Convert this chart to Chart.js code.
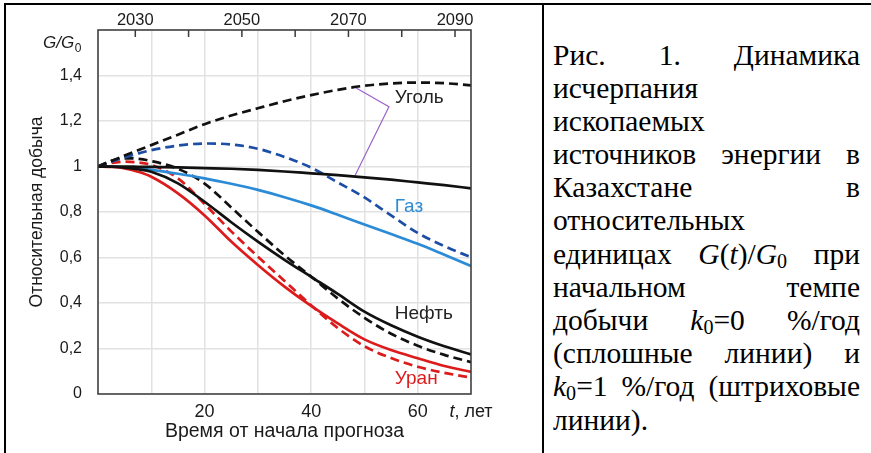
<!DOCTYPE html>
<html><head><meta charset="utf-8">
<script src="https://cdn.jsdelivr.net/npm/chart.js@4.4.1/dist/chart.umd.min.js"></script>
<style>
html,body{margin:0;padding:0;background:#fff;width:871px;height:453px;overflow:hidden;position:relative}
#c{position:absolute;left:0;top:0}
.b{position:absolute;background:#000}
#cap{position:absolute;left:553px;top:38.5px;width:307px;font-family:"Liberation Serif","Times New Roman",serif;font-size:29.5px;color:#000}
#cap .l{display:flex;justify-content:space-between;align-items:baseline;height:33.2px;line-height:33.2px;white-space:nowrap}
#cap i{font-style:italic}
#cap sub{font-size:0.68em;vertical-align:-0.2em;line-height:0}
</style></head><body>
<canvas id="c" width="542" height="453"></canvas>
<div class="b" style="left:4px;top:3px;width:867px;height:2px"></div>
<div class="b" style="left:4px;top:3px;width:2px;height:450px"></div>
<div class="b" style="left:542px;top:3px;width:2px;height:450px"></div>
<div id="cap">
<div class="l"><span>Рис.</span><span>1.</span><span>Динамика</span></div>
<div class="l"><span>исчерпания</span></div>
<div class="l"><span>ископаемых</span></div>
<div class="l"><span>источников</span><span>энергии</span><span>в</span></div>
<div class="l"><span>Казахстане</span><span>в</span></div>
<div class="l"><span>относительных</span></div>
<div class="l"><span>единицах</span><span><i>G</i>(<i>t</i>)/<i>G</i><sub>0</sub></span><span>при</span></div>
<div class="l"><span>начальном</span><span>темпе</span></div>
<div class="l"><span>добычи</span><span><i>k</i><sub>0</sub>=0</span><span>%/год</span></div>
<div class="l"><span>(сплошные</span><span>линии)</span><span>и</span></div>
<div class="l"><span><i>k</i><sub>0</sub>=1</span><span>%/год</span><span>(штриховые</span></div>
<div class="l"><span>линии).</span></div>
</div>
<script>
// ---- data ----
const years = [0, 2.5, 5, 7.5, 10, 15, 20, 25, 30, 35, 40, 45, 50, 55, 60, 65, 70];
const coalK0 = [1, 1.0, 1.0, 0.999, 0.998, 0.996, 0.993, 0.99, 0.985, 0.978, 0.97, 0.962, 0.952, 0.942, 0.930, 0.918, 0.904];
const coalK1 = [1, 1.024, 1.048, 1.071, 1.094, 1.14, 1.186, 1.224, 1.256, 1.287, 1.314, 1.337, 1.355, 1.365, 1.369, 1.366, 1.357];
const gasK0  = [1, 0.999, 0.996, 0.991, 0.985, 0.968, 0.948, 0.924, 0.897, 0.865, 0.829, 0.788, 0.745, 0.703, 0.66, 0.612, 0.563];
const gasK1  = [1, 1.021, 1.04, 1.057, 1.072, 1.092, 1.101, 1.097, 1.078, 1.042, 0.995, 0.93, 0.864, 0.785, 0.708, 0.65, 0.601];
const oilK0  = [1, 0.999, 0.995, 0.988, 0.977, 0.926, 0.845, 0.755, 0.67, 0.59, 0.515, 0.44, 0.362, 0.302, 0.252, 0.21, 0.174];
const oilK1  = [1, 1.025, 1.036, 1.034, 1.024, 0.99, 0.925, 0.82, 0.713, 0.61, 0.516, 0.42, 0.335, 0.265, 0.212, 0.172, 0.14];
const uraK0  = [1, 0.998, 0.992, 0.977, 0.955, 0.882, 0.785, 0.67, 0.567, 0.472, 0.387, 0.31, 0.24, 0.193, 0.157, 0.123, 0.097];
const uraK1  = [1, 1.015, 1.021, 1.018, 1.007, 0.948, 0.835, 0.715, 0.604, 0.497, 0.39, 0.29, 0.21, 0.158, 0.12, 0.093, 0.072];
const leaderT = [47.8, 54.6, 48.2];
const leaderV = [1.354, 1.263, 0.958];
const seriesNames = ['Уголь', 'Газ', 'Нефть', 'Уран'];
const yTicks = [0, 0.2, 0.4, 0.6, 0.8, 1.0, 1.2, 1.4, 1.6];
const yLabels = ['0', '0,2', '0,4', '0,6', '0,8', '1', '1,2', '1,4', ''];
const xGridTicks = [0, 10, 20, 30, 40, 50, 60, 70];
const xLabelTicks = [20, 40, 60];
const topYears = [2030, 2040, 2050, 2060, 2070, 2080, 2090];
const topLabelYears = [2030, 2050, 2070, 2090];
const xTitle = 'Время от начала прогноза';
const yTitle = 'Относительная добыча';

const FAM = '"Liberation Sans", Arial, sans-serif';
Chart.defaults.font.family = FAM;
const pts = arr => years.map((t, i) => ({x: t, y: arr[i]}));
const BLACK = '#111111', LBLUE = '#2b8bd6', DBLUE = '#1d4ea6', RED = '#dc1c1c';

const annot = {
  id: 'annot',
  afterDraw(chart) {
    const {ctx, chartArea: a, scales: {x, y, xTop}} = chart;
    ctx.save();
    ctx.strokeStyle = '#3a3a3a'; ctx.lineWidth = 1.5;
    ctx.strokeRect(a.left, a.top, a.right - a.left, a.bottom - a.top);
    ctx.beginPath();
    xTop.ticks.forEach(t => { const px = xTop.getPixelForValue(t.value); ctx.moveTo(px, a.top); ctx.lineTo(px, a.top + 7); });
    ctx.stroke();
    // series names
    ctx.font = '19px ' + FAM; ctx.textBaseline = 'middle'; ctx.textAlign = 'left';
    const pos = [[55.7, 1.30, '#222'], [55.7, 0.823, LBLUE], [55.7, 0.354, '#222'], [55.7, 0.068, RED]];
    pos.forEach((p, i) => { ctx.fillStyle = p[2]; ctx.fillText(seriesNames[i], x.getPixelForValue(p[0]), y.getPixelForValue(p[1])); });
    // G/G0
    ctx.fillStyle = '#1a1a1a'; ctx.textBaseline = 'alphabetic';
    ctx.font = 'italic 17px ' + FAM;
    ctx.fillText('G/G', 43, 48);
    const w = ctx.measureText('G/G').width;
    ctx.font = '12px ' + FAM;
    ctx.fillText('0', 43 + w + 0.5, 52);
    // t, лет
    ctx.textBaseline = 'middle';
    ctx.font = 'italic 18px ' + FAM;
    const w1 = ctx.measureText('t').width;
    ctx.font = '18px ' + FAM;
    const w2 = ctx.measureText(', лет').width;
    const cx = x.getPixelForValue(70) - (w1 + w2) / 2, cy = 411.7;
    ctx.font = 'italic 18px ' + FAM; ctx.fillText('t', cx, cy);
    ctx.font = '18px ' + FAM; ctx.fillText(', лет', cx + w1, cy);
    ctx.restore();
  }
};

const ds = (label, arr, color, dashed) => ({
  label, data: pts(arr), borderColor: color, borderWidth: 2.7,
  borderDash: dashed ? [9, 5] : [], pointRadius: 0, cubicInterpolationMode: 'monotone', fill: false
});

new Chart(document.getElementById('c'), {
  type: 'line',
  data: {
    datasets: [
      ds('Уголь k0=0', coalK0, BLACK, false),
      ds('Нефть k0=0', oilK0, BLACK, false),
      ds('Уран k0=0', uraK0, RED, false),
      ds('Газ k0=0', gasK0, LBLUE, false),
      ds('Уголь k0=1', coalK1, BLACK, true),
      ds('Газ k0=1', gasK1, DBLUE, true),
      ds('Нефть k0=1', oilK1, BLACK, true),
      ds('Уран k0=1', uraK1, RED, true),
      {label: 'leader', data: leaderT.map((t, i) => ({x: t, y: leaderV[i]})), borderColor: '#9a63c9', borderWidth: 1.2, pointRadius: 0, tension: 0, fill: false}
    ]
  },
  options: {
    responsive: false, animation: false, events: [],
    layout: {padding: {left: 0, right: 71, top: 0, bottom: 0}},
    plugins: {legend: {display: false}, tooltip: {enabled: false}},
    scales: {
      x: {
        type: 'linear', position: 'bottom', min: 0, max: 70,
        afterFit: s => { s.height = 59; },
        afterBuildTicks: s => { s.ticks = xGridTicks.map(v => ({value: v})); },
        grid: {color: '#e2e2e2', lineWidth: 1.5, drawTicks: false},
        border: {display: false},
        ticks: {padding: 7.5, color: '#1a1a1a', font: {size: 18}, autoSkip: false, maxRotation: 0,
          callback: v => xLabelTicks.includes(v) ? String(v) : ''},
        title: {display: true, text: xTitle, color: '#1a1a1a', font: {size: 19.5}, padding: {top: 0, bottom: 10}}
      },
      xTop: {
        type: 'linear', axis: 'x', position: 'top', min: 2023, max: 2093,
        afterFit: s => { s.height = 30; },
        afterBuildTicks: s => { s.ticks = topYears.map(v => ({value: v})); },
        grid: {display: false, drawTicks: false},
        border: {display: false},
        ticks: {padding: 0, color: '#1a1a1a', font: {size: 16.5}, autoSkip: false, maxRotation: 0,
          callback: v => topLabelYears.includes(v) ? String(v) : ''}
      },
      y: {
        type: 'linear', min: 0, max: 1.6,
        afterFit: s => { s.width = 98; },
        afterBuildTicks: s => { s.ticks = yTicks.map(v => ({value: v})); },
        grid: {color: '#e2e2e2', lineWidth: 1.5, drawTicks: false},
        border: {display: false},
        ticks: {padding: 16, color: '#1a1a1a', font: {size: 16}, autoSkip: false,
          callback: (v, i) => yLabels[i]},
        title: {display: true, text: yTitle, color: '#1a1a1a', font: {size: 17.5}, padding: {top: 26.5, bottom: 0}}
      }
    }
  },
  plugins: [annot]
});
</script>
</body></html>
